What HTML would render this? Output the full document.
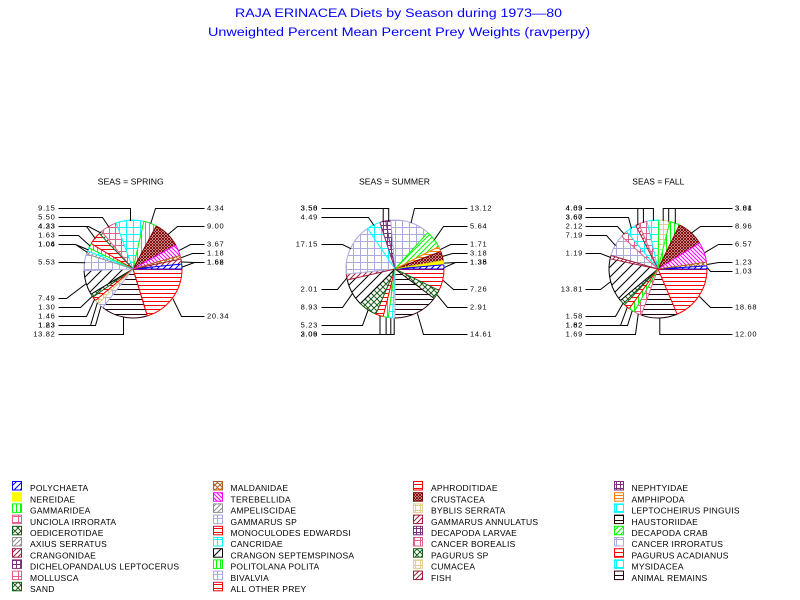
<!DOCTYPE html>
<html><head><meta charset="utf-8"><style>html,body{margin:0;padding:0;background:#fff}svg{display:block}.v{font-size:7.5px;letter-spacing:0.7px}.lg{font-size:8.5px;letter-spacing:0.25px}</style></head><body>
<svg width="800" height="600" xmlns="http://www.w3.org/2000/svg" xmlns:xlink="http://www.w3.org/1999/xlink" font-family="'Liberation Sans', sans-serif">
<defs>
<pattern id="bl" width="6" height="6" patternUnits="userSpaceOnUse"><path d="M0,6L6,0M-1,1L1,-1M5,7L7,5" stroke="#0000ff"/></pattern>
<pattern id="gv" width="4" height="4" patternUnits="userSpaceOnUse"><rect width="1" height="4" fill="#00ff00"/></pattern>
<pattern id="pk" width="6" height="6" patternUnits="userSpaceOnUse"><rect width="6" height="1" fill="#e0608c"/><rect width="1" height="6" fill="#e0608c"/></pattern>
<pattern id="dg" width="6" height="6" patternUnits="userSpaceOnUse"><path d="M0,6L6,0M-1,1L1,-1M5,7L7,5M0,0L6,6M-1,5L1,7M5,-1L7,1" stroke="#1a5c1a"/></pattern>
<pattern id="gy" width="5" height="5" patternUnits="userSpaceOnUse"><path d="M0,5L5,0M-1,1L1,-1M4,6L6,4" stroke="#909090"/></pattern>
<pattern id="dr" width="5" height="5" patternUnits="userSpaceOnUse"><path d="M0,5L5,0M-1,1L1,-1M4,6L6,4" stroke="#a01e3c"/></pattern>
<pattern id="pu" width="4" height="4" patternUnits="userSpaceOnUse"><rect width="4" height="1" fill="#7a307a"/><rect width="1" height="4" fill="#7a307a"/></pattern>
<pattern id="br" width="5" height="5" patternUnits="userSpaceOnUse"><path d="M0,5L5,0M-1,1L1,-1M4,6L6,4M0,0L5,5M-1,4L1,6M4,-1L6,1" stroke="#b0601e"/></pattern>
<pattern id="mg" width="4" height="4" patternUnits="userSpaceOnUse"><path d="M0,0L4,4M-1,3L1,5M3,-1L5,1" stroke="#ff00ff"/></pattern>
<pattern id="lv" width="7" height="7" patternUnits="userSpaceOnUse"><rect width="7" height="1" fill="#aaaadd"/><rect width="1" height="7" fill="#aaaadd"/></pattern>
<pattern id="rd" width="4" height="4" patternUnits="userSpaceOnUse"><rect width="4" height="1" fill="#ff0000"/></pattern>
<pattern id="cy" width="7" height="7" patternUnits="userSpaceOnUse"><rect width="7" height="1" fill="#00ffff"/><rect width="1" height="7" fill="#00ffff"/></pattern>
<pattern id="bk" width="10" height="10" patternUnits="userSpaceOnUse"><path d="M0,10L10,0M-1,1L1,-1M9,11L11,9" stroke="#000"/></pattern>
<pattern id="gd" width="5" height="5" patternUnits="userSpaceOnUse"><path d="M0,5L5,0M-1,1L1,-1M4,6L6,4" stroke="#00ff00"/></pattern>
<pattern id="cr" width="3" height="3" patternUnits="userSpaceOnUse"><path d="M0,3L3,0M0,0L3,3" stroke="#800000"/></pattern>
<pattern id="be" width="5" height="5" patternUnits="userSpaceOnUse"><rect width="5" height="1" fill="#e0d08c"/><rect width="1" height="5" fill="#e0d08c"/></pattern>
<pattern id="bh" width="5" height="5" patternUnits="userSpaceOnUse"><rect width="5" height="1" fill="#200008"/></pattern>
<pattern id="or" width="3" height="3" patternUnits="userSpaceOnUse"><rect width="3" height="1" fill="#ff8000"/></pattern>
<line id="L" x1="0" y1="0" x2="49" y2="0"/>
<circle id="A" r="49" pathLength="360" fill="none"/>
<circle id="W" r="24.5" stroke-width="49.5" pathLength="360" fill="none" stroke="#fff"/>
</defs>

<text x="235" y="17" font-size="11.5" fill="#0000ff" textLength="327" lengthAdjust="spacingAndGlyphs">RAJA ERINACEA Diets by Season during 1973—80</text>
<text x="208" y="36" font-size="11.5" fill="#0000ff" textLength="382" lengthAdjust="spacingAndGlyphs">Unweighted Percent Mean Percent Prey  Weights (ravperpy)</text>

<text x="97.7" y="184.5" font-size="8" textLength="66" lengthAdjust="spacingAndGlyphs">SEAS = SPRING</text>
<text x="359" y="184.5" font-size="8" textLength="71" lengthAdjust="spacingAndGlyphs">SEAS = SUMMER</text>
<text x="632.3" y="184.5" font-size="8" textLength="52" lengthAdjust="spacingAndGlyphs">SEAS = FALL</text>

<!-- SPRING -->
<g transform="translate(133 269)">
<mask id="s1"><use href="#W" transform="rotate(-5.8)" stroke-dasharray="5.8 360"/></mask><circle r="49" fill="url(#bl)" mask="url(#s1)"/>
<mask id="s2"><use href="#W" transform="rotate(-11.8)" stroke-dasharray="6 360"/></mask><circle r="49" fill="url(#dr)" mask="url(#s2)"/>
<mask id="s3"><use href="#W" transform="rotate(-16)" stroke-dasharray="4.2 360"/></mask><circle r="49" fill="url(#br)" mask="url(#s3)"/>
<mask id="s4"><use href="#W" transform="rotate(-29.2)" stroke-dasharray="13.2 360"/></mask><circle r="49" fill="url(#mg)" mask="url(#s4)"/>
<mask id="s5"><use href="#W" transform="rotate(-61.6)" stroke-dasharray="32.4 360"/></mask><circle r="49" fill="url(#cr)" mask="url(#s5)"/>
<mask id="s6"><use href="#W" transform="rotate(-77.2)" stroke-dasharray="15.6 360"/></mask><circle r="49" fill="url(#gv)" mask="url(#s6)"/>
<mask id="s7"><use href="#W" transform="rotate(-110.1)" stroke-dasharray="32.9 360"/></mask><circle r="49" fill="url(#cy)" mask="url(#s7)"/>
<mask id="s8"><use href="#W" transform="rotate(-130)" stroke-dasharray="19.9 360"/></mask><circle r="49" fill="url(#pk)" mask="url(#s8)"/>
<mask id="s9"><use href="#W" transform="rotate(-133.5)" stroke-dasharray="3.5 360"/></mask><circle r="49" fill="url(#dg)" mask="url(#s9)"/>
<mask id="s10"><use href="#W" transform="rotate(-148.7)" stroke-dasharray="15.2 360"/></mask><circle r="49" fill="url(#rd)" mask="url(#s10)"/>
<mask id="s11"><use href="#W" transform="rotate(-154.6)" stroke-dasharray="5.9 360"/></mask><circle r="49" fill="url(#gv)" mask="url(#s11)"/>
<mask id="s12"><use href="#W" transform="rotate(-158.4)" stroke-dasharray="3.8 360"/></mask><circle r="49" fill="url(#cy)" mask="url(#s12)"/>
<mask id="s13"><use href="#W" transform="rotate(-162.1)" stroke-dasharray="3.7 360"/></mask><circle r="49" fill="url(#gy)" mask="url(#s13)"/>
<mask id="s14"><use href="#W" transform="rotate(-182)" stroke-dasharray="19.9 360"/></mask><circle r="49" fill="url(#lv)" mask="url(#s14)"/>
<mask id="s15"><use href="#W" transform="rotate(-211)" stroke-dasharray="29 360"/></mask><circle r="49" fill="url(#bk)" mask="url(#s15)"/>
<mask id="s16"><use href="#W" transform="rotate(-215)" stroke-dasharray="4 360"/></mask><circle r="49" fill="url(#dg)" mask="url(#s16)"/>
<mask id="s17"><use href="#W" transform="rotate(-220)" stroke-dasharray="5 360"/></mask><circle r="49" fill="url(#rd)" mask="url(#s17)"/>
<mask id="s18"><use href="#W" transform="rotate(-225)" stroke-dasharray="5 360"/></mask><circle r="49" fill="url(#be)" mask="url(#s18)"/>
<mask id="s19"><use href="#W" transform="rotate(-232)" stroke-dasharray="7 360"/></mask><circle r="49" fill="url(#lv)" mask="url(#s19)"/>
<mask id="s20"><use href="#W" transform="rotate(-287)" stroke-dasharray="55 360"/></mask><circle r="49" fill="url(#bh)" mask="url(#s20)"/>
<mask id="s21"><use href="#W" transform="rotate(-360)" stroke-dasharray="73 360"/></mask><circle r="49" fill="url(#rd)" mask="url(#s21)"/>
<g fill="none">
<use href="#A" transform="rotate(-5.8)" stroke-dasharray="5.8 360" stroke="#0000ff"/><use href="#L" stroke="#0000ff"/><use href="#L" transform="rotate(-5.8)" stroke="#0000ff"/>
<use href="#A" transform="rotate(-11.8)" stroke-dasharray="6 360" stroke="#a01e3c"/><use href="#L" transform="rotate(-11.8)" stroke="#a01e3c"/>
<use href="#A" transform="rotate(-16)" stroke-dasharray="4.2 360" stroke="#b0601e"/><use href="#L" transform="rotate(-16)" stroke="#b0601e"/>
<use href="#A" transform="rotate(-29.2)" stroke-dasharray="13.2 360" stroke="#ff00ff"/><use href="#L" transform="rotate(-29.2)" stroke="#ff00ff"/>
<use href="#A" transform="rotate(-61.6)" stroke-dasharray="32.4 360" stroke="#800000"/><use href="#L" transform="rotate(-61.6)" stroke="#800000"/>
<use href="#A" transform="rotate(-77.2)" stroke-dasharray="15.6 360" stroke="#00ff00"/><use href="#L" transform="rotate(-77.2)" stroke="#00ff00"/>
<use href="#A" transform="rotate(-110.1)" stroke-dasharray="32.9 360" stroke="#00ffff"/><use href="#L" transform="rotate(-110.1)" stroke="#00ffff"/>
<use href="#A" transform="rotate(-130)" stroke-dasharray="19.9 360" stroke="#e0608c"/><use href="#L" transform="rotate(-130)" stroke="#e0608c"/>
<use href="#A" transform="rotate(-133.5)" stroke-dasharray="3.5 360" stroke="#1a5c1a"/><use href="#L" transform="rotate(-133.5)" stroke="#1a5c1a"/>
<use href="#A" transform="rotate(-148.7)" stroke-dasharray="15.2 360" stroke="#ff0000"/><use href="#L" transform="rotate(-148.7)" stroke="#ff0000"/>
<use href="#A" transform="rotate(-154.6)" stroke-dasharray="5.9 360" stroke="#00ff00"/><use href="#L" transform="rotate(-154.6)" stroke="#00ff00"/>
<use href="#A" transform="rotate(-158.4)" stroke-dasharray="3.8 360" stroke="#00ffff"/><use href="#L" transform="rotate(-158.4)" stroke="#00ffff"/>
<use href="#A" transform="rotate(-162.1)" stroke-dasharray="3.7 360" stroke="#909090"/><use href="#L" transform="rotate(-162.1)" stroke="#909090"/>
<use href="#A" transform="rotate(-182)" stroke-dasharray="19.9 360" stroke="#aaaadd"/><use href="#L" transform="rotate(-182)" stroke="#aaaadd"/>
<use href="#A" transform="rotate(-211)" stroke-dasharray="29 360" stroke="#000"/><use href="#L" transform="rotate(-211)" stroke="#000"/>
<use href="#A" transform="rotate(-215)" stroke-dasharray="4 360" stroke="#1a5c1a"/><use href="#L" transform="rotate(-215)" stroke="#1a5c1a"/>
<use href="#A" transform="rotate(-220)" stroke-dasharray="5 360" stroke="#ff0000"/><use href="#L" transform="rotate(-220)" stroke="#ff0000"/>
<use href="#A" transform="rotate(-225)" stroke-dasharray="5 360" stroke="#e0d08c"/><use href="#L" transform="rotate(-225)" stroke="#e0d08c"/>
<use href="#A" transform="rotate(-232)" stroke-dasharray="7 360" stroke="#aaaadd"/><use href="#L" transform="rotate(-232)" stroke="#aaaadd"/>
<use href="#A" transform="rotate(-287)" stroke-dasharray="55 360" stroke="#200008"/><use href="#L" transform="rotate(-287)" stroke="#200008"/>
<use href="#A" transform="rotate(-360)" stroke-dasharray="73 360" stroke="#ff0000"/><use href="#L" transform="rotate(-287)" stroke="#ff0000"/>
</g>
</g>

<!-- SUMMER -->
<g transform="translate(395 269)">
<mask id="u1"><use href="#W" transform="rotate(-5)" stroke-dasharray="5 360"/></mask><circle r="49" fill="url(#bl)" mask="url(#u1)"/>
<mask id="u2"><use href="#W" transform="rotate(-10)" stroke-dasharray="5 360"/></mask><circle r="49" fill="#ffff00" mask="url(#u2)"/>
<mask id="u3"><use href="#W" transform="rotate(-21)" stroke-dasharray="11 360"/></mask><circle r="49" fill="url(#cr)" mask="url(#u3)"/>
<mask id="u4"><use href="#W" transform="rotate(-27)" stroke-dasharray="6 360"/></mask><circle r="49" fill="url(#or)" mask="url(#u4)"/>
<mask id="u5"><use href="#W" transform="rotate(-48)" stroke-dasharray="21 360"/></mask><circle r="49" fill="url(#gd)" mask="url(#u5)"/>
<mask id="u6"><use href="#W" transform="rotate(-95)" stroke-dasharray="47 360"/></mask><circle r="49" fill="url(#lv)" mask="url(#u6)"/>
<mask id="u7"><use href="#W" transform="rotate(-101)" stroke-dasharray="6 360"/></mask><circle r="49" fill="url(#pu)" mask="url(#u7)"/>
<mask id="u8"><use href="#W" transform="rotate(-108)" stroke-dasharray="7 360"/></mask><circle r="49" fill="url(#pu)" mask="url(#u8)"/>
<mask id="u9"><use href="#W" transform="rotate(-124)" stroke-dasharray="16 360"/></mask><circle r="49" fill="url(#cy)" mask="url(#u9)"/>
<mask id="u10"><use href="#W" transform="rotate(-186)" stroke-dasharray="62 360"/></mask><circle r="49" fill="url(#lv)" mask="url(#u10)"/>
<mask id="u11"><use href="#W" transform="rotate(-193)" stroke-dasharray="7 360"/></mask><circle r="49" fill="url(#dr)" mask="url(#u11)"/>
<mask id="u12"><use href="#W" transform="rotate(-225)" stroke-dasharray="32 360"/></mask><circle r="49" fill="url(#bk)" mask="url(#u12)"/>
<mask id="u13"><use href="#W" transform="rotate(-247)" stroke-dasharray="22 360"/></mask><circle r="49" fill="url(#dg)" mask="url(#u13)"/>
<mask id="u14"><use href="#W" transform="rotate(-256)" stroke-dasharray="9 360"/></mask><circle r="49" fill="url(#rd)" mask="url(#u14)"/>
<mask id="u15"><use href="#W" transform="rotate(-262)" stroke-dasharray="6 360"/></mask><circle r="49" fill="url(#gv)" mask="url(#u15)"/>
<mask id="u16"><use href="#W" transform="rotate(-267)" stroke-dasharray="5 360"/></mask><circle r="49" fill="url(#cy)" mask="url(#u16)"/>
<mask id="u17"><use href="#W" transform="rotate(-270)" stroke-dasharray="3 360"/></mask><circle r="49" fill="url(#lv)" mask="url(#u17)"/>
<mask id="u18"><use href="#W" transform="rotate(-323)" stroke-dasharray="53 360"/></mask><circle r="49" fill="url(#bh)" mask="url(#u18)"/>
<mask id="u19"><use href="#W" transform="rotate(-334)" stroke-dasharray="11 360"/></mask><circle r="49" fill="url(#dg)" mask="url(#u19)"/>
<mask id="u20"><use href="#W" transform="rotate(-360)" stroke-dasharray="26 360"/></mask><circle r="49" fill="url(#rd)" mask="url(#u20)"/>
<g fill="none">
<use href="#A" transform="rotate(-5)" stroke-dasharray="5 360" stroke="#0000ff"/><use href="#L" stroke="#0000ff"/><use href="#L" transform="rotate(-5)" stroke="#0000ff"/>
<use href="#A" transform="rotate(-10)" stroke-dasharray="5 360" stroke="#e0e000"/><use href="#L" transform="rotate(-10)" stroke="#e0e000"/>
<use href="#A" transform="rotate(-21)" stroke-dasharray="11 360" stroke="#800000"/><use href="#L" transform="rotate(-21)" stroke="#800000"/>
<use href="#A" transform="rotate(-27)" stroke-dasharray="6 360" stroke="#ff8000"/><use href="#L" transform="rotate(-27)" stroke="#ff8000"/>
<use href="#A" transform="rotate(-48)" stroke-dasharray="21 360" stroke="#00ff00"/><use href="#L" transform="rotate(-48)" stroke="#00ff00"/>
<use href="#A" transform="rotate(-95)" stroke-dasharray="47 360" stroke="#aaaadd"/><use href="#L" transform="rotate(-95)" stroke="#aaaadd"/>
<use href="#A" transform="rotate(-101)" stroke-dasharray="6 360" stroke="#7a307a"/><use href="#L" transform="rotate(-101)" stroke="#7a307a"/>
<use href="#A" transform="rotate(-108)" stroke-dasharray="7 360" stroke="#7a307a"/><use href="#L" transform="rotate(-108)" stroke="#7a307a"/>
<use href="#A" transform="rotate(-124)" stroke-dasharray="16 360" stroke="#00ffff"/><use href="#L" transform="rotate(-124)" stroke="#00ffff"/>
<use href="#A" transform="rotate(-186)" stroke-dasharray="62 360" stroke="#aaaadd"/><use href="#L" transform="rotate(-186)" stroke="#aaaadd"/>
<use href="#A" transform="rotate(-193)" stroke-dasharray="7 360" stroke="#a01e3c"/><use href="#L" transform="rotate(-193)" stroke="#a01e3c"/>
<use href="#A" transform="rotate(-225)" stroke-dasharray="32 360" stroke="#000"/><use href="#L" transform="rotate(-225)" stroke="#000"/>
<use href="#A" transform="rotate(-247)" stroke-dasharray="22 360" stroke="#1a5c1a"/><use href="#L" transform="rotate(-247)" stroke="#1a5c1a"/>
<use href="#A" transform="rotate(-256)" stroke-dasharray="9 360" stroke="#ff0000"/><use href="#L" transform="rotate(-256)" stroke="#ff0000"/>
<use href="#A" transform="rotate(-262)" stroke-dasharray="6 360" stroke="#00ff00"/><use href="#L" transform="rotate(-262)" stroke="#00ff00"/>
<use href="#A" transform="rotate(-267)" stroke-dasharray="5 360" stroke="#00ffff"/><use href="#L" transform="rotate(-267)" stroke="#00ffff"/>
<use href="#A" transform="rotate(-270)" stroke-dasharray="3 360" stroke="#aaaadd"/><use href="#L" transform="rotate(-270)" stroke="#aaaadd"/>
<use href="#A" transform="rotate(-323)" stroke-dasharray="53 360" stroke="#200008"/><use href="#L" transform="rotate(-323)" stroke="#200008"/>
<use href="#A" transform="rotate(-334)" stroke-dasharray="11 360" stroke="#1a5c1a"/><use href="#L" transform="rotate(-334)" stroke="#1a5c1a"/>
<use href="#A" transform="rotate(-360)" stroke-dasharray="26 360" stroke="#ff0000"/>
</g>
</g>

<!-- FALL -->
<g transform="translate(658 269)">
<mask id="f1"><use href="#W" transform="rotate(-3.7)" stroke-dasharray="3.7 360"/></mask><circle r="49" fill="url(#bl)" mask="url(#f1)"/>
<mask id="f2"><use href="#W" transform="rotate(-8)" stroke-dasharray="4.3 360"/></mask><circle r="49" fill="url(#br)" mask="url(#f2)"/>
<mask id="f3"><use href="#W" transform="rotate(-32)" stroke-dasharray="24 360"/></mask><circle r="49" fill="url(#mg)" mask="url(#f3)"/>
<mask id="f4"><use href="#W" transform="rotate(-64)" stroke-dasharray="32 360"/></mask><circle r="49" fill="url(#cr)" mask="url(#f4)"/>
<mask id="f5"><use href="#W" transform="rotate(-76)" stroke-dasharray="12 360"/></mask><circle r="49" fill="url(#gv)" mask="url(#f5)"/>
<mask id="f6"><use href="#W" transform="rotate(-89)" stroke-dasharray="13 360"/></mask><circle r="49" fill="url(#be)" mask="url(#f6)"/>
<mask id="f7"><use href="#W" transform="rotate(-103)" stroke-dasharray="14 360"/></mask><circle r="49" fill="url(#cy)" mask="url(#f7)"/>
<mask id="f8"><use href="#W" transform="rotate(-113)" stroke-dasharray="10 360"/></mask><circle r="49" fill="url(#pk)" mask="url(#f8)"/>
<mask id="f9"><use href="#W" transform="rotate(-117)" stroke-dasharray="4 360"/></mask><circle r="49" fill="url(#dr)" mask="url(#f9)"/>
<mask id="f10"><use href="#W" transform="rotate(-130)" stroke-dasharray="13 360"/></mask><circle r="49" fill="url(#cy)" mask="url(#f10)"/>
<mask id="f11"><use href="#W" transform="rotate(-138)" stroke-dasharray="8 360"/></mask><circle r="49" fill="url(#pk)" mask="url(#f11)"/>
<mask id="f12"><use href="#W" transform="rotate(-164)" stroke-dasharray="26 360"/></mask><circle r="49" fill="url(#lv)" mask="url(#f12)"/>
<mask id="f13"><use href="#W" transform="rotate(-168)" stroke-dasharray="4 360"/></mask><circle r="49" fill="url(#dr)" mask="url(#f13)"/>
<mask id="f14"><use href="#W" transform="rotate(-220)" stroke-dasharray="52 360"/></mask><circle r="49" fill="url(#bk)" mask="url(#f14)"/>
<mask id="f15"><use href="#W" transform="rotate(-227)" stroke-dasharray="7 360"/></mask><circle r="49" fill="url(#dg)" mask="url(#f15)"/>
<mask id="f16"><use href="#W" transform="rotate(-234)" stroke-dasharray="7 360"/></mask><circle r="49" fill="url(#rd)" mask="url(#f16)"/>
<mask id="f17"><use href="#W" transform="rotate(-241)" stroke-dasharray="7 360"/></mask><circle r="49" fill="url(#gv)" mask="url(#f17)"/>
<mask id="f18"><use href="#W" transform="rotate(-250)" stroke-dasharray="9 360"/></mask><circle r="49" fill="url(#pk)" mask="url(#f18)"/>
<mask id="f19"><use href="#W" transform="rotate(-293)" stroke-dasharray="43 360"/></mask><circle r="49" fill="url(#bh)" mask="url(#f19)"/>
<mask id="f20"><use href="#W" transform="rotate(-360)" stroke-dasharray="67 360"/></mask><circle r="49" fill="url(#rd)" mask="url(#f20)"/>
<g fill="none">
<use href="#A" transform="rotate(-3.7)" stroke-dasharray="3.7 360" stroke="#0000ff"/><use href="#L" stroke="#0000ff"/><use href="#L" transform="rotate(-3.7)" stroke="#0000ff"/>
<use href="#A" transform="rotate(-8)" stroke-dasharray="4.3 360" stroke="#b0601e"/><use href="#L" transform="rotate(-8)" stroke="#b0601e"/>
<use href="#A" transform="rotate(-32)" stroke-dasharray="24 360" stroke="#ff00ff"/><use href="#L" transform="rotate(-32)" stroke="#ff00ff"/>
<use href="#A" transform="rotate(-64)" stroke-dasharray="32 360" stroke="#800000"/><use href="#L" transform="rotate(-64)" stroke="#800000"/>
<use href="#A" transform="rotate(-76)" stroke-dasharray="12 360" stroke="#00ff00"/><use href="#L" transform="rotate(-76)" stroke="#00ff00"/>
<use href="#A" transform="rotate(-89)" stroke-dasharray="13 360" stroke="#e0d08c"/><use href="#L" transform="rotate(-89)" stroke="#00ff00"/>
<use href="#A" transform="rotate(-103)" stroke-dasharray="14 360" stroke="#00ffff"/><use href="#L" transform="rotate(-103)" stroke="#00ffff"/>
<use href="#A" transform="rotate(-113)" stroke-dasharray="10 360" stroke="#e0608c"/><use href="#L" transform="rotate(-113)" stroke="#e0608c"/>
<use href="#A" transform="rotate(-117)" stroke-dasharray="4 360" stroke="#a01e3c"/><use href="#L" transform="rotate(-117)" stroke="#a01e3c"/>
<use href="#A" transform="rotate(-130)" stroke-dasharray="13 360" stroke="#00ffff"/><use href="#L" transform="rotate(-130)" stroke="#00ffff"/>
<use href="#A" transform="rotate(-138)" stroke-dasharray="8 360" stroke="#e0608c"/><use href="#L" transform="rotate(-138)" stroke="#e0608c"/>
<use href="#A" transform="rotate(-164)" stroke-dasharray="26 360" stroke="#aaaadd"/><use href="#L" transform="rotate(-164)" stroke="#a01e3c"/>
<use href="#A" transform="rotate(-168)" stroke-dasharray="4 360" stroke="#a01e3c"/><use href="#L" transform="rotate(-168)" stroke="#a01e3c"/>
<use href="#A" transform="rotate(-220)" stroke-dasharray="52 360" stroke="#000"/><use href="#L" transform="rotate(-220)" stroke="#000"/>
<use href="#A" transform="rotate(-227)" stroke-dasharray="7 360" stroke="#1a5c1a"/><use href="#L" transform="rotate(-227)" stroke="#1a5c1a"/>
<use href="#A" transform="rotate(-234)" stroke-dasharray="7 360" stroke="#ff0000"/><use href="#L" transform="rotate(-234)" stroke="#ff0000"/>
<use href="#A" transform="rotate(-241)" stroke-dasharray="7 360" stroke="#00ff00"/><use href="#L" transform="rotate(-241)" stroke="#00ff00"/>
<use href="#A" transform="rotate(-250)" stroke-dasharray="9 360" stroke="#e0608c"/><use href="#L" transform="rotate(-250)" stroke="#e0608c"/>
<use href="#A" transform="rotate(-293)" stroke-dasharray="43 360" stroke="#200008"/><use href="#L" transform="rotate(-293)" stroke="#ff0000"/>
<use href="#A" transform="rotate(-360)" stroke-dasharray="67 360" stroke="#ff0000"/>
</g>
</g>

<!-- leader lines -->
<g fill="none" stroke="#000" transform="translate(0.5 0.5)">
<path d="M58,208H130V220.5M58,217H102L108.5,226.6M58,226H86L94.9,238.2M58,226H88L100.4,232.4M58,235H78L89.9,245.7M58,244H75L88.1,249.5M58,244H75L87,252M58,262H72L84.5,262.2M58,298H66L86,282.9M58,307H80L91.9,295.7M58,316H86L94.1,298.8M58,325H90L96.9,302.1M58,325H95L100.5,305.7M58,334H123V317"/>
<path d="M204,208H155L150.2,223.1M204,226H177L167.4,234.1M204,244H190L178.2,250.2M204,253H192L180.6,257.2M204,262H194L181.9,266.5M204,262H194L181.4,261.5M204,316H181L172.4,298.2"/>
<path d="M321,208H388.2V220.5M382.7,208V221.6M321,217H368L373.5,225M321,244H342L350.6,248.3M321,289H337L346.7,277.1M321,307H342L352.1,292.8M321,325H362L367.6,309.6M321,334H393.7V318M379.5,334V315.5M385.6,334V317.1M390.3,334V317.8"/>
<path d="M467,208H414L410.5,222.5M467,226H443L433.9,239.2M467,244H450L439.8,249.1M467,253H452L442.2,255.9M467,262H455L444,266.9M467,262H455L443.6,262.6M467,289H453L442.7,280M467,307H447L436.8,294.6M467,334H423L416.9,312.9"/>
<path d="M585,208H652.9V220.3M642.9,208V222.4M637.3,208V224.6M585,217H628L631,228.1M585,226H617L623.9,233.8M585,235H606L615.1,245.2M585,253H600L610.5,257.1M585,289H600L610.5,280.9M585,316H615L622.5,302.7M585,325H620L626.8,306.8M585,325H627L631.7,310.3M585,334H635L637.7,313.6"/>
<path d="M732,208H662.7V220.2M668.2,208V221.1M674.8,208V222.9M732,226H700L690.8,232.6M732,244H718L704.1,252.2M732,262H718L706.8,264M732,271H710L707,267.4M732,307H710L698.9,296M732,334H659.3V318"/>
</g>

<!-- value labels -->
<g class="v" fill="#000">
<g text-anchor="end">
<text x="55.5" y="210.7">9.15</text>
<text x="55.5" y="219.7">5.50</text>
<text x="55.5" y="228.7">4.23</text><text x="55.5" y="228.7">4.33</text>
<text x="55.5" y="237.7">1.63</text>
<text x="55.5" y="246.7">1.06</text><text x="55.5" y="246.7">1.04</text>
<text x="55.5" y="264.7">5.53</text>
<text x="55.5" y="300.7">7.49</text>
<text x="55.5" y="309.7">1.30</text>
<text x="55.5" y="318.7">1.46</text>
<text x="55.5" y="327.7">1.23</text><text x="55.5" y="327.7">1.83</text>
<text x="55.5" y="336.7">13.82</text>

<text x="318" y="210.7">3.58</text><text x="318" y="210.7">3.50</text>
<text x="318" y="219.7">4.49</text>
<text x="318" y="246.7">17.15</text>
<text x="318" y="291.7">2.01</text>
<text x="318" y="309.7">8.93</text>
<text x="318" y="327.7">5.23</text>
<text x="318" y="336.7">3.09</text><text x="318" y="336.7">2.06</text>

<text x="583" y="210.7">4.09</text><text x="583" y="210.7">4.63</text>
<text x="583" y="219.7">3.60</text><text x="583" y="219.7">3.67</text>
<text x="583" y="228.7">2.12</text>
<text x="583" y="237.7">7.19</text>
<text x="583" y="255.7">1.19</text>
<text x="583" y="291.7">13.81</text>
<text x="583" y="318.7">1.58</text>
<text x="583" y="327.7">1.62</text><text x="583" y="327.7">1.82</text>
<text x="583" y="336.7">1.69</text>
</g>
<text x="207" y="210.7">4.34</text>
<text x="207" y="228.7">9.00</text>
<text x="207" y="246.7">3.67</text>
<text x="207" y="255.7">1.18</text>
<text x="207" y="264.7">1.62</text><text x="207" y="264.7">1.66</text>
<text x="207" y="318.7">20.34</text>

<text x="470" y="210.7">13.12</text>
<text x="470" y="228.7">5.64</text>
<text x="470" y="246.7">1.71</text>
<text x="470" y="255.7">3.18</text>
<text x="470" y="264.7">1.35</text><text x="470" y="264.7">1.38</text>
<text x="470" y="291.7">7.26</text>
<text x="470" y="309.7">2.91</text>
<text x="470" y="336.7">14.61</text>

<text x="735" y="210.7">3.01</text><text x="735" y="210.7">3.84</text>
<text x="735" y="228.7">8.96</text>
<text x="735" y="246.7">6.57</text>
<text x="735" y="264.7">1.23</text>
<text x="735" y="273.7">1.03</text>
<text x="735" y="309.7">18.68</text>
<text x="735" y="336.7">12.00</text>
</g>

<!-- legend boxes -->
<g stroke-width="1">
<rect x="12.5" y="481.5" width="9" height="8.5" fill="url(#bl)" stroke="#0000ff"/>
<rect x="12.5" y="492.7" width="9" height="8.5" fill="#ffff00" stroke="#ffff00"/>
<rect x="12.5" y="503.9" width="9" height="8.5" fill="url(#gv)" stroke="#00ff00"/>
<rect x="12.5" y="515.1" width="9" height="8.5" fill="url(#pk)" stroke="#e0608c"/>
<rect x="12.5" y="526.3" width="9" height="8.5" fill="url(#dg)" stroke="#1a5c1a"/>
<rect x="12.5" y="537.5" width="9" height="8.5" fill="url(#gy)" stroke="#909090"/>
<rect x="12.5" y="548.7" width="9" height="8.5" fill="url(#dr)" stroke="#a01e3c"/>
<rect x="12.5" y="559.9" width="9" height="8.5" fill="url(#pu)" stroke="#7a307a"/>
<rect x="12.5" y="571.1" width="9" height="8.5" fill="url(#pk)" stroke="#e0608c"/>
<rect x="12.5" y="582.3" width="9" height="8.5" fill="url(#dg)" stroke="#1a5c1a"/>

<rect x="213.5" y="481.5" width="9" height="8.5" fill="url(#br)" stroke="#b0601e"/>
<rect x="213.5" y="492.7" width="9" height="8.5" fill="url(#mg)" stroke="#ff00ff"/>
<rect x="213.5" y="503.9" width="9" height="8.5" fill="url(#gy)" stroke="#909090"/>
<rect x="213.5" y="515.1" width="9" height="8.5" fill="url(#lv)" stroke="#aaaadd"/>
<rect x="213.5" y="526.3" width="9" height="8.5" fill="url(#rd)" stroke="#ff0000"/>
<rect x="213.5" y="537.5" width="9" height="8.5" fill="url(#cy)" stroke="#00ffff"/>
<rect x="213.5" y="548.7" width="9" height="8.5" fill="url(#bk)" stroke="#000"/>
<rect x="213.5" y="559.9" width="9" height="8.5" fill="url(#gv)" stroke="#00ff00"/>
<rect x="213.5" y="571.1" width="9" height="8.5" fill="url(#lv)" stroke="#aaaadd"/>
<rect x="213.5" y="582.3" width="9" height="8.5" fill="url(#rd)" stroke="#ff0000"/>

<rect x="413.5" y="481.5" width="9" height="8.5" fill="url(#rd)" stroke="#ff0000"/>
<rect x="413.5" y="492.7" width="9" height="8.5" fill="url(#cr)" stroke="#800000"/>
<rect x="413.5" y="503.9" width="9" height="8.5" fill="url(#be)" stroke="#e0d08c"/>
<rect x="413.5" y="515.1" width="9" height="8.5" fill="url(#dr)" stroke="#a01e3c"/>
<rect x="413.5" y="526.3" width="9" height="8.5" fill="url(#pu)" stroke="#7a307a"/>
<rect x="413.5" y="537.5" width="9" height="8.5" fill="url(#pk)" stroke="#e0608c"/>
<rect x="413.5" y="548.7" width="9" height="8.5" fill="url(#dg)" stroke="#1a5c1a"/>
<rect x="413.5" y="559.9" width="9" height="8.5" fill="url(#be)" stroke="#e0d08c"/>
<rect x="413.5" y="571.1" width="9" height="8.5" fill="url(#dr)" stroke="#a01e3c"/>

<rect x="614.5" y="481.5" width="9" height="8.5" fill="url(#pu)" stroke="#7a307a"/>
<rect x="614.5" y="492.7" width="9" height="8.5" fill="url(#or)" stroke="#ff8000"/>
<rect x="614.5" y="503.9" width="9" height="8.5" fill="url(#cy)" stroke="#00ffff"/>
<rect x="614.5" y="515.1" width="9" height="8.5" fill="url(#bh)" stroke="#200008"/>
<rect x="614.5" y="526.3" width="9" height="8.5" fill="url(#gd)" stroke="#00ff00"/>
<rect x="614.5" y="537.5" width="9" height="8.5" fill="url(#lv)" stroke="#aaaadd"/>
<rect x="614.5" y="548.7" width="9" height="8.5" fill="url(#rd)" stroke="#ff0000"/>
<rect x="614.5" y="559.9" width="9" height="8.5" fill="url(#cy)" stroke="#00ffff"/>
<rect x="614.5" y="571.1" width="9" height="8.5" fill="url(#bh)" stroke="#200008"/>
</g>

<!-- legend text -->
<g class="lg" fill="#000">
<text x="30" y="491.2">POLYCHAETA</text>
<text x="30" y="502.4">NEREIDAE</text>
<text x="30" y="513.6">GAMMARIDEA</text>
<text x="30" y="524.8">UNCIOLA IRRORATA</text>
<text x="30" y="536">OEDICEROTIDAE</text>
<text x="30" y="547.2">AXIUS SERRATUS</text>
<text x="30" y="558.4">CRANGONIDAE</text>
<text x="30" y="569.6">DICHELOPANDALUS LEPTOCERUS</text>
<text x="30" y="580.8">MOLLUSCA</text>
<text x="30" y="592">SAND</text>

<text x="230.5" y="491.2">MALDANIDAE</text>
<text x="230.5" y="502.4">TEREBELLIDA</text>
<text x="230.5" y="513.6">AMPELISCIDAE</text>
<text x="230.5" y="524.8">GAMMARUS SP</text>
<text x="230.5" y="536">MONOCULODES EDWARDSI</text>
<text x="230.5" y="547.2">CANCRIDAE</text>
<text x="230.5" y="558.4">CRANGON SEPTEMSPINOSA</text>
<text x="230.5" y="569.6">POLITOLANA POLITA</text>
<text x="230.5" y="580.8">BIVALVIA</text>
<text x="230.5" y="592">ALL OTHER PREY</text>

<text x="431" y="491.2">APHRODITIDAE</text>
<text x="431" y="502.4">CRUSTACEA</text>
<text x="431" y="513.6">BYBLIS SERRATA</text>
<text x="431" y="524.8">GAMMARUS ANNULATUS</text>
<text x="431" y="536">DECAPODA LARVAE</text>
<text x="431" y="547.2">CANCER BOREALIS</text>
<text x="431" y="558.4">PAGURUS SP</text>
<text x="431" y="569.6">CUMACEA</text>
<text x="431" y="580.8">FISH</text>

<text x="631.5" y="491.2">NEPHTYIDAE</text>
<text x="631.5" y="502.4">AMPHIPODA</text>
<text x="631.5" y="513.6">LEPTOCHEIRUS PINGUIS</text>
<text x="631.5" y="524.8">HAUSTORIIDAE</text>
<text x="631.5" y="536">DECAPODA CRAB</text>
<text x="631.5" y="547.2">CANCER IRRORATUS</text>
<text x="631.5" y="558.4">PAGURUS ACADIANUS</text>
<text x="631.5" y="569.6">MYSIDACEA</text>
<text x="631.5" y="580.8">ANIMAL REMAINS</text>
</g>
</svg>
</body></html>
